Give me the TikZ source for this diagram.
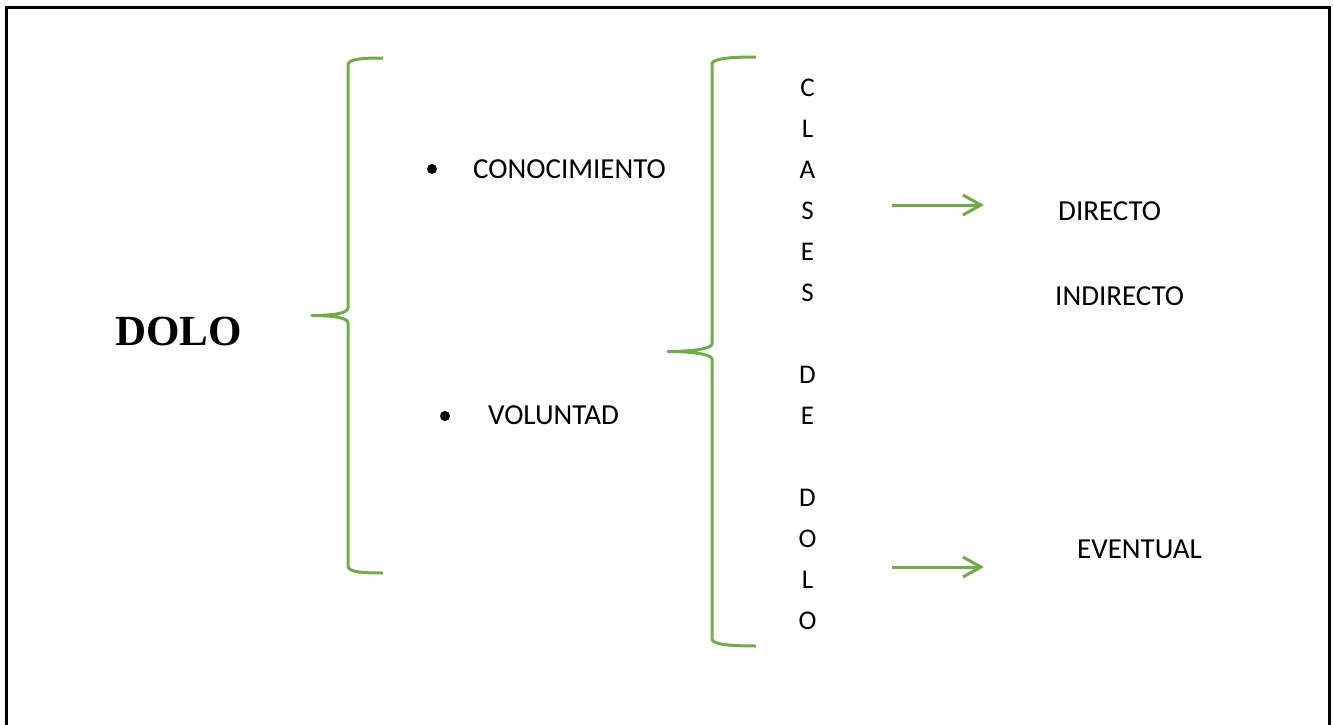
\documentclass[tikz,border=0pt]{standalone}
\usepackage{fontspec}
\setmainfont{Carlito}
\newfontfamily\titlefont{Liberation Serif}
\usetikzlibrary{arrows.meta}
\definecolor{brgreen}{RGB}{112,173,71}
\tikzset{
  lbl/.style={inner sep=0pt, anchor=west, font=\fontsize{29}{29}\selectfont},
  col/.style={inner sep=0pt, anchor=center, font=\fontsize{27}{27}\selectfont},
  bracepath/.style={draw=brgreen, line width=3pt, line join=round},
  arr/.style={draw=brgreen, line width=3pt, -{Straight Barb[length=18pt,width=20pt,line width=3pt]}},
  dot/.style={circle, fill=black, inner sep=0pt, minimum size=10pt},
  frame/.style={draw=black, line width=3pt}
}
\begin{document}
\begin{tikzpicture}[x=1pt,y=-1pt]
\useasboundingbox (0,0) rectangle (1334,725);
% frame (bottom edge lies outside the picture)
\draw[frame] (6.5,730) -- (6.5,7.5) -- (1329.5,7.5) -- (1329.5,730);

% title
\node[inner sep=0pt, font=\titlefont\bfseries\fontsize{43}{43}\selectfont] (dolo) at (178.5,331.5) {DOLO};

% first brace
\draw[bracepath] (383,58) .. controls (362,58) and (348,59) .. (348,65)
  -- (348,308) .. controls (348,313) and (334,315.5) .. (312,315.5)
  .. controls (334,315.5) and (348,318) .. (348,323)
  -- (348,566) .. controls (348,572) and (362,573) .. (383,573);

% items
\node[dot] (b1) at (432,169) {};
\node[lbl] (cono) at (473,169) {CONOCIMIENTO};
\node[dot] (b2) at (445,416) {};
\node[lbl] (volu) at (488,415) {VOLUNTAD};

% second brace
\draw[bracepath] (756,57) .. controls (735,57) and (712,58) .. (712,64)
  -- (712,344) .. controls (712,349) and (690,351.5) .. (668,351.5)
  .. controls (690,351.5) and (712,354) .. (712,359)
  -- (712,639) .. controls (712,645) and (735,646) .. (756,646);

% vertical column
\foreach \ch/\k in {C/0,L/1,A/2,S/3,E/4,S/5,D/7,E/8,D/10,O/11,L/12,O/13}{
  \node[col] (c\k) at (807.5,88+41*\k) {\ch};
}

% arrows
\coordinate (a1s) at (892,205);
\coordinate (a1e) at (984,205);
\coordinate (a2s) at (892,567);
\coordinate (a2e) at (984,567);
\draw[arr] (a1s) -- (a1e);
\draw[arr] (a2s) -- (a2e);

% kinds
\node[lbl] (dir) at (1058,211) {DIRECTO};
\node[lbl] (ind) at (1055,296) {INDIRECTO};
\node[lbl] (eve) at (1077,549) {EVENTUAL};
\end{tikzpicture}
\end{document}
